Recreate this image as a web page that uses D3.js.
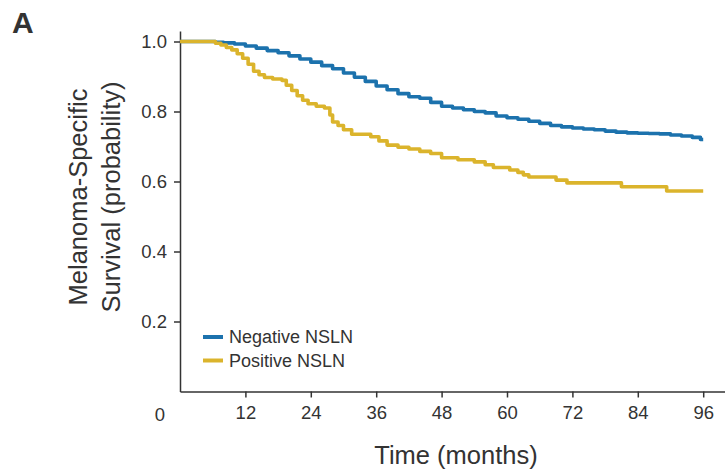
<!DOCTYPE html>
<html lang="en">
<head>
    <meta charset="UTF-8">
    <title>Melanoma-Specific Survival</title>
    <script src="https://cdn.jsdelivr.net/npm/d3@7"></script>
    <style>
      body { margin: 0; background: #fff; }
      text { font-family: "Liberation Sans", Arial, sans-serif; fill: #333; }
    </style>
</head>
<body>
<div id="chart"></div>
<script>
  // survival curves: [months, probability]
  const negativeNSLN = [
    [0, 1.0], [6.5, 0.998], [8, 0.996], [10, 0.993], [12, 0.987], [14, 0.981],
    [16, 0.974], [18, 0.968], [20, 0.959], [22, 0.95], [24, 0.941], [26, 0.931],
    [28, 0.922], [30, 0.91], [32, 0.898], [34, 0.886], [36, 0.873], [38, 0.862],
    [40, 0.851], [42, 0.842], [44, 0.838], [46, 0.826], [48, 0.815], [50, 0.81],
    [52, 0.805], [54, 0.8], [56, 0.796], [58, 0.787], [60, 0.782], [62, 0.778],
    [64, 0.772], [66, 0.766], [68, 0.76], [70, 0.756], [72, 0.753], [74, 0.75],
    [76, 0.748], [78, 0.744], [80, 0.741], [82, 0.739], [84, 0.738], [86, 0.737],
    [88, 0.736], [90, 0.733], [92, 0.73], [94, 0.726], [95.5, 0.72], [96, 0.72]
  ];

  const positiveNSLN = [
    [0, 1.0], [6.5, 0.995], [7.5, 0.99], [8.5, 0.983], [9.5, 0.976], [10.5, 0.965],
    [11.5, 0.952], [12.5, 0.935], [13.5, 0.915], [14.5, 0.905], [15.5, 0.897],
    [17, 0.893], [18.7, 0.889], [19.5, 0.875], [20.5, 0.86], [21.5, 0.845],
    [22.5, 0.832], [23.5, 0.822], [25, 0.815], [26.5, 0.81], [27.5, 0.79],
    [28, 0.77], [29, 0.76], [30, 0.748], [31.5, 0.735], [35, 0.728], [36.5, 0.716],
    [38, 0.704], [40, 0.698], [42, 0.693], [44, 0.686], [46, 0.68], [48, 0.668],
    [51, 0.662], [54, 0.656], [56, 0.648], [57.5, 0.64], [60.5, 0.633], [62, 0.626],
    [63, 0.619], [64, 0.613], [69, 0.604], [71, 0.596], [81, 0.585], [89.3, 0.573],
    [96, 0.573]
  ];

  const xTicks = [12, 24, 36, 48, 60, 72, 84, 96];
  const yTicks = [0.2, 0.4, 0.6, 0.8, 1.0];
  const seriesNames = ["Negative NSLN", "Positive NSLN"];
  const seriesColors = ["#1c72ad", "#dbb42c"];

  const width = 725;
  const height = 472;

  const svg = d3.create("svg")
      .attr("width", width)
      .attr("height", height)
      .attr("viewBox", [0, 0, width, height]);

  const x = d3.scaleLinear().domain([0, 100]).range([180, 725]);
  const y = d3.scaleLinear().domain([0, 1.03]).range([391.5, 31]);

  // axes
  const xAxis = svg.append("g")
      .attr("transform", `translate(0,${y(0)})`)
      .call(d3.axisBottom(x).tickValues(xTicks).tickSize(6).tickPadding(8).tickSizeOuter(0));

  const yAxis = svg.append("g")
      .attr("transform", `translate(${x(0)},0)`)
      .call(d3.axisLeft(y).tickValues(yTicks).tickFormat(d3.format(".1f")).tickSize(6).tickPadding(7).tickSizeOuter(0));

  [xAxis, yAxis].forEach(g => {
    g.selectAll("path, line").attr("stroke", "#333").attr("stroke-width", 1.5);
    g.selectAll("text").attr("font-size", 18.5).attr("fill", "#333")
        .attr("font-family", "'Liberation Sans', Arial, sans-serif");
  });

  // shared origin label
  svg.append("text")
      .attr("x", x(0) - 20)
      .attr("y", y(0) + 29)
      .attr("text-anchor", "middle")
      .attr("font-size", 18.5)
      .text("0");

  // curves
  const line = d3.line()
      .x(d => x(d[0]))
      .y(d => y(d[1]))
      .curve(d3.curveStepAfter);

  [negativeNSLN, positiveNSLN].forEach((data, i) => {
    svg.append("path")
        .datum(data)
        .attr("fill", "none")
        .attr("stroke", seriesColors[i])
        .attr("stroke-width", 3.6)
        .attr("stroke-linejoin", "round")
        .attr("d", line);
  });

  // legend
  const legend = svg.append("g")
      .attr("transform", "translate(203,337)");

  seriesNames.forEach((name, i) => {
    const row = legend.append("g").attr("transform", `translate(0,${i * 23.5})`);
    row.append("line")
        .attr("x1", 0).attr("x2", 20)
        .attr("stroke", seriesColors[i])
        .attr("stroke-width", 4);
    row.append("text")
        .attr("x", 26)
        .attr("dy", "0.35em")
        .attr("font-size", 18)
        .text(name);
  });

  // titles
  svg.append("text")
      .attr("x", 456)
      .attr("y", 464)
      .attr("text-anchor", "middle")
      .attr("font-size", 25.5)
      .text("Time (months)");

  const yTitle = svg.append("text")
      .attr("transform", "translate(0,197) rotate(-90)")
      .attr("text-anchor", "middle")
      .attr("font-size", 25.5);
  yTitle.append("tspan").attr("x", 0).attr("y", 87).text("Melanoma-Specific");
  yTitle.append("tspan").attr("x", 0).attr("y", 120).text("Survival (probability)");

  svg.append("text")
      .attr("x", 12)
      .attr("y", 33)
      .attr("font-size", 30)
      .attr("font-weight", "bold")
      .attr("fill", "#111")
      .text("A");

  document.getElementById("chart").appendChild(svg.node());
</script>
</body>
</html>
